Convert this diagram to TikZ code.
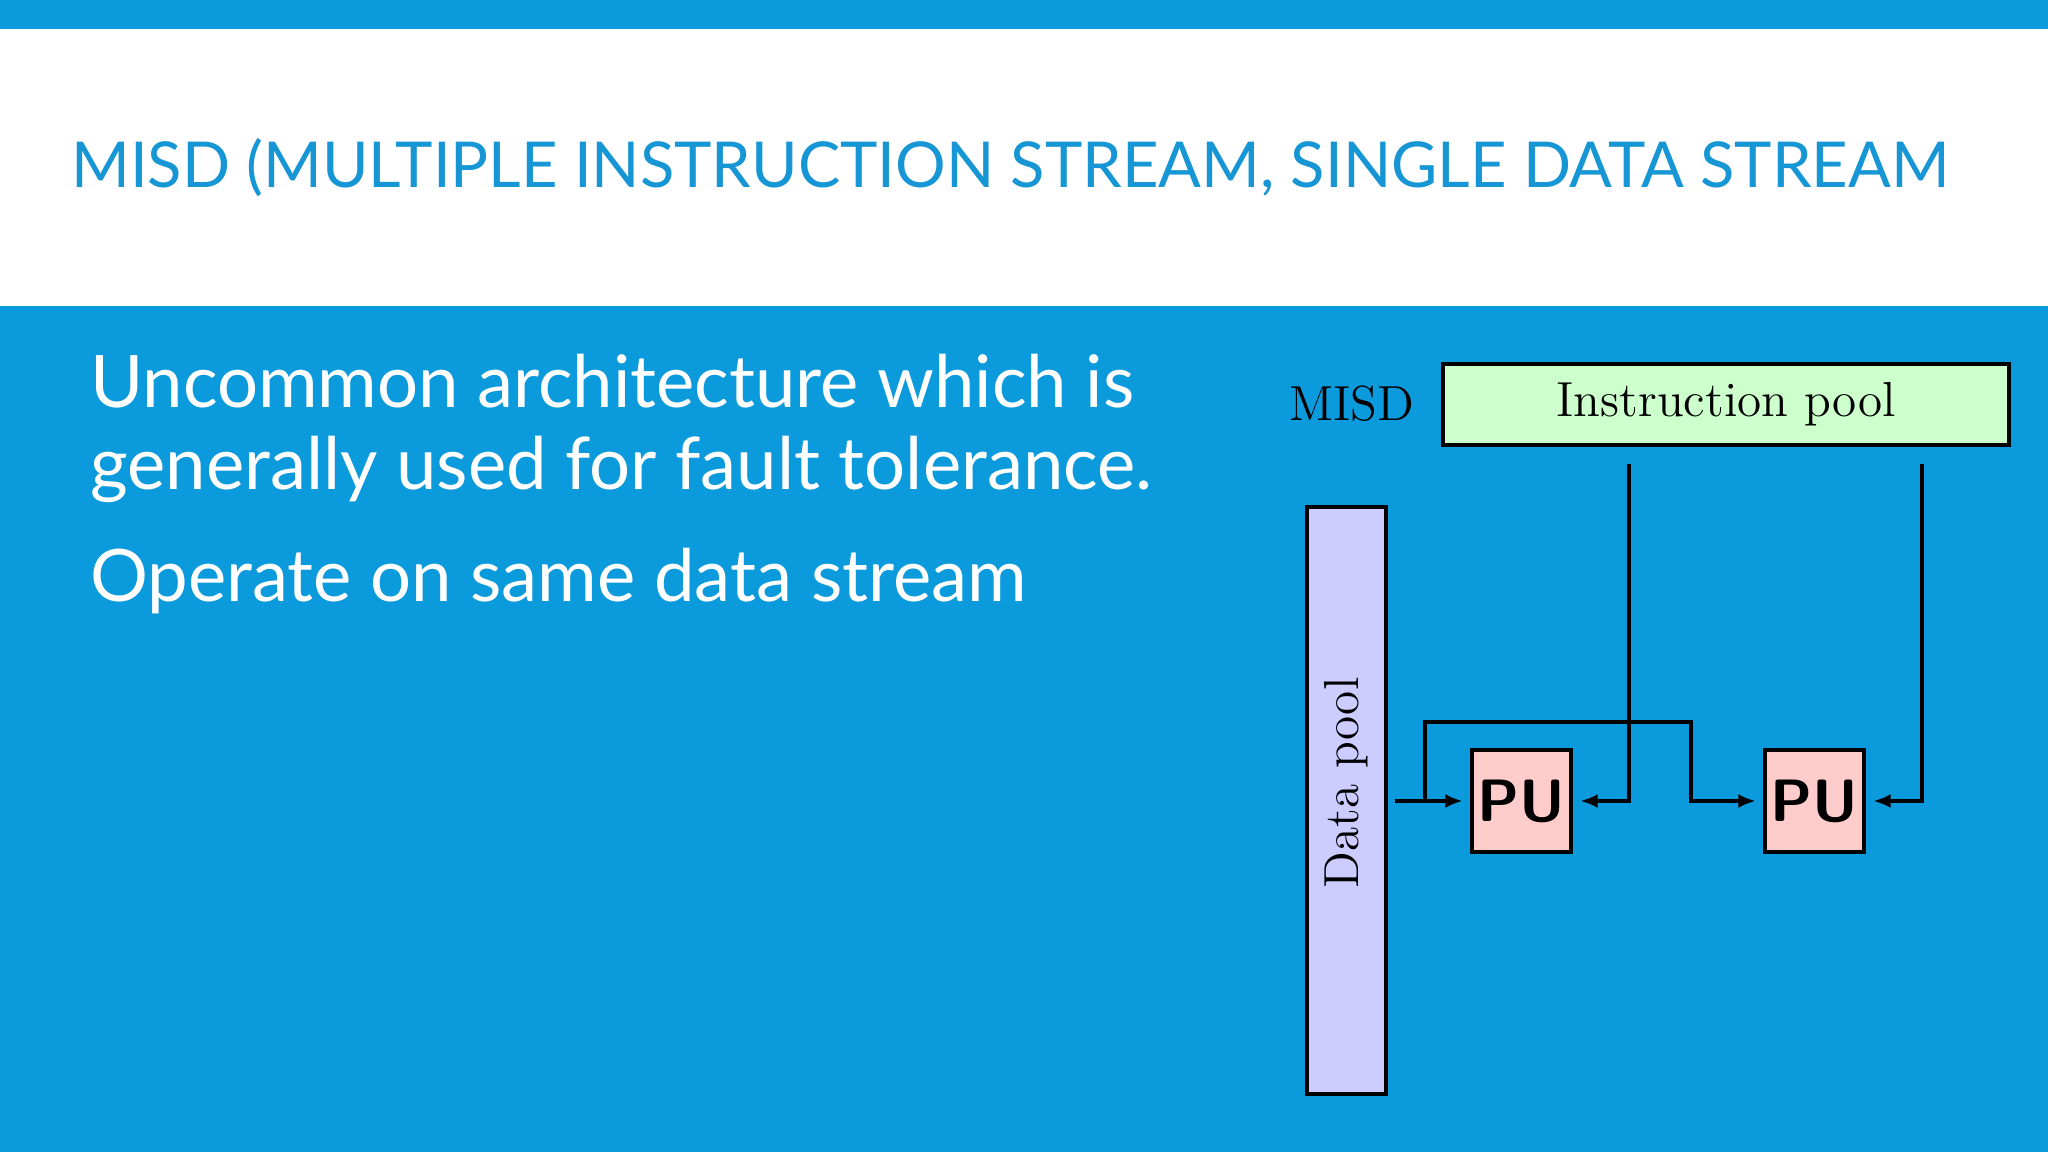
\documentclass[tikz,border=0pt]{standalone}
\usepackage{fontspec}
\setmainfont{Latin Modern Roman}
\newfontfamily\slidefont{Lato}
\usetikzlibrary{arrows.meta, positioning}
\definecolor{slideblue}{RGB}{11,154,219}
\definecolor{titleblue}{RGB}{22,150,212}
\definecolor{poolgreen}{RGB}{204,255,204}
\definecolor{poolblue}{RGB}{204,204,255}
\definecolor{pupink}{RGB}{255,204,204}
\begin{document}
\begin{tikzpicture}[x=0.01cm, y=-0.01cm,
		pool/.style = {draw=black, line width=1.2pt, inner sep=0pt},
		pu/.style = {pool, fill=pupink, minimum width=0.99cm, minimum height=1.02cm,
				font=\sffamily\bfseries\fontsize{17}{17}\selectfont},
		link/.style = {line width=1pt, -{Latex[length=5pt, width=4pt]}},
		body/.style = {anchor=base west, text=white, font=\slidefont\fontsize{20.6}{20.6}\selectfont}
                   ]
    \useasboundingbox (0,0) rectangle (2048,1152);

%Background and bands
    \fill[slideblue] (0,0) rectangle (2048,1152);
    \fill[white] (0,29) rectangle (2048,306);

%Title
    \node[anchor=base west, text=titleblue, font=\slidefont\fontsize{18}{18}\selectfont] (title) at (59,188)
        {MISD (MULTIPLE INSTRUCTION STREAM, SINGLE DATA STREAM};

%Body text
    \node[body] (line1) at (78,408) {Uncommon architecture which is};
    \node[body] (line2) at (78,490) {generally used for fault tolerance.};
    \node[body] (line3) at (78,602) {Operate on same data stream};

%Pools
    \node[pool, fill=poolgreen, minimum width=5.66cm, minimum height=0.81cm,
        font=\fontsize{14}{14}\selectfont] (ipool) at (1726,404.5) {Instruction pool};
    \node[font=\fontsize{14}{14}\selectfont] (misd) at (1352,404) {MISD};
    \node[pool, fill=poolblue, minimum width=0.79cm, minimum height=5.87cm] (dpool) at (1346.5,800.5) {};
    \node[rotate=90, font=\fontsize{14}{14}\selectfont] (dlabel) at (1346.5,783) {Data pool};

%Processing units
    \node[pu] (pu1) at (1521.5,801) {PU};
    \node[pu] (pu2) at (1814.5,801) {PU};

%Connectors
    \coordinate (din) at (1395,801);
    \coordinate (split) at (1425,801);
    \coordinate (i1) at (1629,464);
    \coordinate (i2) at (1922,464);
    \draw[link] (din) -- ([xshift=-0.07cm]pu1.west);
    \draw[link] (split) |- (1691,722) |- ([xshift=-0.07cm]pu2.west);
    \draw[link] (i1) |- ([xshift=0.07cm]pu1.east);
    \draw[link] (i2) |- ([xshift=0.07cm]pu2.east);

\end{tikzpicture}
\end{document}
